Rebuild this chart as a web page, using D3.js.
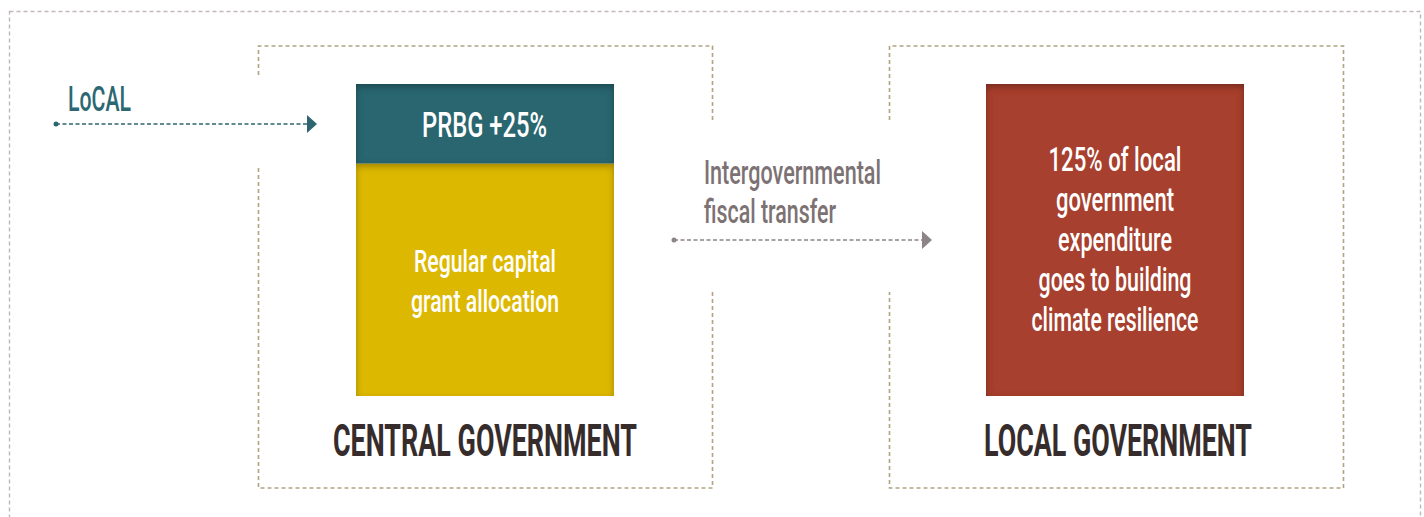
<!DOCTYPE html>
<html>
<head>
<meta charset="utf-8">
<script src="https://cdn.jsdelivr.net/npm/d3@7"></script>
<style>
  body { margin: 0; background: #fff; }
  svg text { font-family: Roboto, "Liberation Sans", sans-serif; }
</style>
</head>
<body>
<script>
// panels and their texts
var panels = ["CENTRAL GOVERNMENT", "LOCAL GOVERNMENT"];
var centralTop = ["PRBG +25%"];
var centralBottom = ["Regular capital", "grant allocation"];
var localLines = ["125% of local", "government", "expenditure", "goes to building", "climate resilience"];
var transferLines = ["Intergovernmental", "fiscal transfer"];
var inputLabel = "LoCAL";

// measured text widths (px) so the condensed look matches
var widths = {
    "LoCAL": 63, "PRBG +25%": 125,
    "Regular capital": 142, "grant allocation": 148,
    "125% of local": 133, "government": 118, "expenditure": 114,
    "goes to building": 153, "climate resilience": 167,
    "Intergovernmental": 177, "fiscal transfer": 132,
    "CENTRAL GOVERNMENT": 304, "LOCAL GOVERNMENT": 268
};

var W = 1424, H = 517;
var svg = d3.select("body").append("svg").attr("width", W).attr("height", H);

var defs = svg.append("defs");
var f = defs.append("filter").attr("id", "inner")
    .attr("x", "-10%").attr("y", "-10%").attr("width", "120%").attr("height", "120%");
f.append("feFlood").attr("flood-color", "#000").attr("flood-opacity", 0.55).attr("result", "c");
f.append("feComposite").attr("in", "c").attr("in2", "SourceAlpha").attr("operator", "out").attr("result", "inv");
f.append("feGaussianBlur").attr("in", "inv").attr("stdDeviation", 3.5).attr("result", "blur");
f.append("feOffset").attr("in", "blur").attr("dy", 2.5).attr("result", "off");
f.append("feComposite").attr("in", "off").attr("in2", "SourceAlpha").attr("operator", "in").attr("result", "shadow");
var m = f.append("feMerge");
m.append("feMergeNode").attr("in", "SourceGraphic");
m.append("feMergeNode").attr("in", "shadow");

var x = d3.scaleBand().domain(panels).range([258, 1343]).paddingInner(0.2805);
var panelTop = 46, panelBottom = 488;
var barTop = 84, barSplit = 163.5, barBottom = 396, barInset = 98, barW = 258;

// outer frame
svg.append("rect")
    .attr("x", 9.5).attr("y", 11.5).attr("width", 1411).attr("height", 540)
    .attr("fill", "none").attr("stroke", "#c2b7b8").attr("stroke-width", 1.4)
    .attr("stroke-dasharray", "4,3");

// dashed panels with openings for the arrows
function panelPath(x0, x1, leftGap, rightGap) {
    var p = d3.path();
    if (leftGap) {
        p.moveTo(x0, leftGap[0]); p.lineTo(x0, panelTop);
    } else {
        p.moveTo(x0, panelBottom); p.lineTo(x0, panelTop);
    }
    p.lineTo(x1, panelTop);
    if (rightGap) {
        p.lineTo(x1, rightGap[0]);
        p.moveTo(x1, rightGap[1]);
    }
    p.lineTo(x1, panelBottom);
    p.lineTo(x0, panelBottom);
    if (leftGap) p.lineTo(x0, leftGap[1]);
    return p.toString();
}
var cx0 = x(panels[0]), lx0 = x(panels[1]), bw = x.bandwidth();
svg.append("path").attr("d", panelPath(cx0 + 0.5, cx0 + bw + 0.5, [75, 165], [120, 292]))
    .attr("fill", "none").attr("stroke", "#b0a482").attr("stroke-width", 1.6).attr("stroke-dasharray", "4,3");
svg.append("path").attr("d", panelPath(lx0 + 0.5, lx0 + bw + 0.5, [120, 292], null))
    .attr("fill", "none").attr("stroke", "#b0a482").attr("stroke-width", 1.6).attr("stroke-dasharray", "4,3");

// bars
svg.append("rect").attr("x", cx0 + barInset).attr("y", barSplit).attr("width", barW).attr("height", barBottom - barSplit)
    .attr("fill", "#ddb805").attr("filter", "url(#inner)");
svg.append("rect").attr("x", cx0 + barInset).attr("y", barTop).attr("width", barW).attr("height", barSplit - barTop)
    .attr("fill", "#2c6670").attr("filter", "url(#inner)");
svg.append("rect").attr("x", lx0 + 97).attr("y", barTop).attr("width", barW).attr("height", barBottom - barTop)
    .attr("fill", "#a73f2e").attr("filter", "url(#inner)");

function addText(str, px, py, size, color, anchor, weight) {
    svg.append("text")
        .attr("x", px).attr("y", py)
        .attr("text-anchor", anchor || "middle")
        .attr("font-size", size)
        .attr("font-weight", weight || 700)
        .attr("fill", color)
        .attr("textLength", widths[str])
        .attr("lengthAdjust", "spacingAndGlyphs")
        .text(str);
}

var cMid = cx0 + barInset + barW / 2, lMid = lx0 + 97 + barW / 2;

centralTop.forEach(function (t) { addText(t, cMid - 0.5, 137, 35, "#fff", "middle", 500); });
centralBottom.forEach(function (t, i) { addText(t, cMid, 272 + i * 39.5, 31, "#fff", "middle", 500); });
localLines.forEach(function (t, i) { addText(t, lMid, 171 + i * 40, 33, "#fff", "middle", 500); });

addText(panels[0], cx0 + bw / 2, 456, 45, "#372c2c");
addText(panels[1], lx0 + bw / 2 + 2, 456, 45, "#372c2c");

// LoCAL arrow
addText(inputLabel, 68, 111, 35, "#2d6872", "start", 500);
svg.append("line").attr("x1", 56).attr("y1", 124).attr("x2", 308).attr("y2", 124)
    .attr("stroke", "#2d6670").attr("stroke-width", 1.5).attr("stroke-dasharray", "4,2.5");
svg.append("circle").attr("cx", 56).attr("cy", 124).attr("r", 2.5).attr("fill", "#2d6670");
svg.append("path").attr("d", "M307,115L317,124L307,133Z").attr("fill", "#2d6670");

// transfer arrow
transferLines.forEach(function (t, i) { addText(t, 704, 183.5 + i * 39, 33, "#7c7274", "start", 500); });
svg.append("line").attr("x1", 674).attr("y1", 240).attr("x2", 923).attr("y2", 240)
    .attr("stroke", "#8d8485").attr("stroke-width", 1.5).attr("stroke-dasharray", "4,2.5");
svg.append("circle").attr("cx", 674).attr("cy", 240).attr("r", 2.5).attr("fill", "#8d8485");
svg.append("path").attr("d", "M922,231L932,240L922,249Z").attr("fill", "#8d8485");
</script>
</body>
</html>
